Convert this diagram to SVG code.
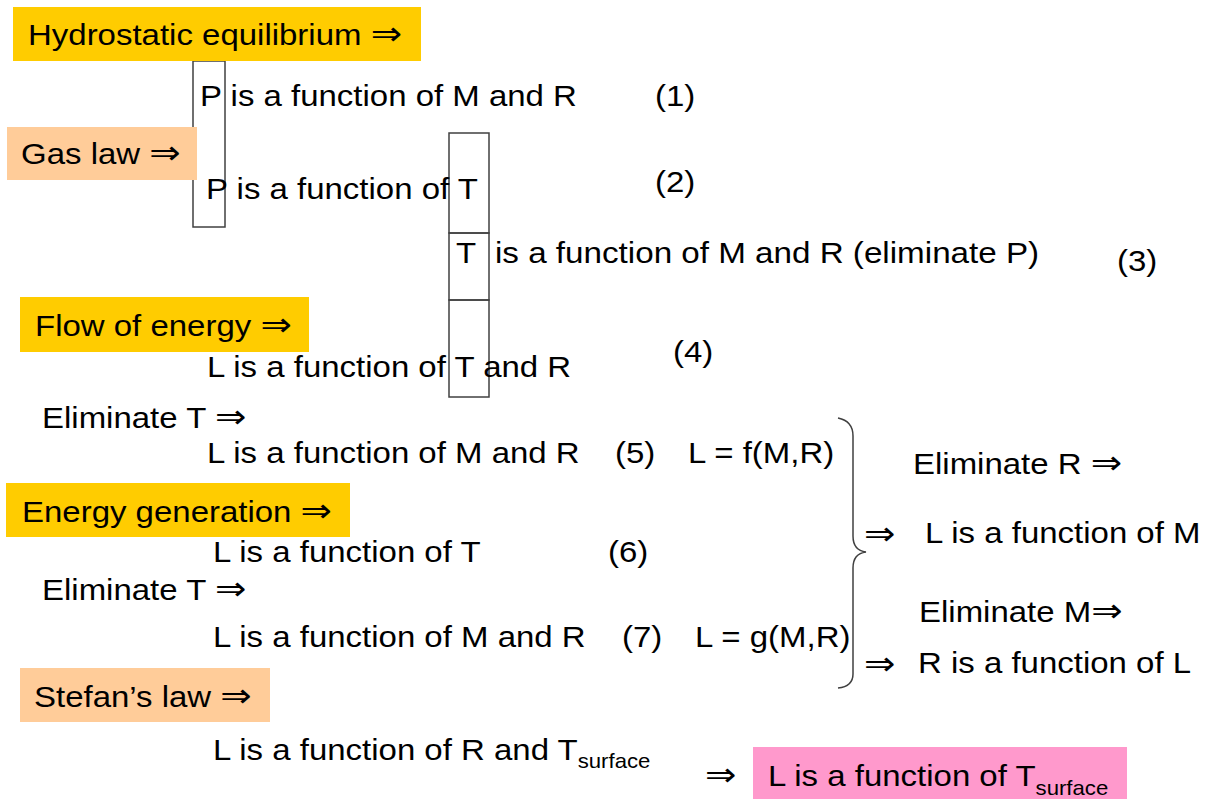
<svg xmlns="http://www.w3.org/2000/svg" width="1212" height="799" viewBox="0 0 1212 799">
<style>
  text { font-family: "Liberation Sans", Arial, "DejaVu Sans", sans-serif; font-size: 29px; fill: #000; }
  .sub { font-size: 19.5px; }
  .arr { font-family: "DejaVu Sans", sans-serif; font-size: 33px; }
  .gold { fill: #FFCC00; }
  .peach { fill: #FFCC99; }
  .pink { fill: #FF99CC; }
  .outline { fill: none; stroke: #404040; stroke-width: 1.5; }
</style>
<rect width="1212" height="799" fill="#fff"/>

<g id="outlines">
  <rect class="outline" x="193" y="61" width="32" height="166"/>
  <rect class="outline" x="449" y="133" width="40" height="100"/>
  <rect class="outline" x="449" y="233" width="40" height="67"/>
  <rect class="outline" x="449" y="300" width="40" height="97"/>
</g>

<g id="hydrostatic">
  <rect class="gold" x="13" y="7" width="408" height="54"/>
  <text transform="matrix(1.137 0 0 1 28 45)">Hydrostatic equilibrium <tspan class="arr">⇒</tspan></text>
</g>
<g id="eq1">
  <text transform="matrix(1.137 0 0 1 200 106)">P is a function of M and R</text>
  <text transform="matrix(1.137 0 0 1 655 106)">(1)</text>
</g>
<g id="gaslaw">
  <rect class="peach" x="7" y="127" width="190" height="53"/>
  <text transform="matrix(1.137 0 0 1 21 164)">Gas law <tspan class="arr">⇒</tspan></text>
</g>
<g id="eq2">
  <text transform="matrix(1.137 0 0 1 206 199)">P is a function of T</text>
  <text transform="matrix(1.137 0 0 1 655 192)">(2)</text>
</g>
<g id="eq3">
  <text transform="matrix(1.137 0 0 1 456 263)">T</text>
  <text transform="matrix(1.145 0 0 1 495 263)">is a function of M and R (eliminate P)</text>
  <text transform="matrix(1.137 0 0 1 1117 271)">(3)</text>
</g>
<g id="flow">
  <rect class="gold" x="20" y="297" width="289" height="55"/>
  <text transform="matrix(1.137 0 0 1 35 336)">Flow of energy <tspan class="arr">⇒</tspan></text>
</g>
<g id="eq4">
  <text transform="matrix(1.137 0 0 1 207 377)">L is a function of T and R</text>
  <text transform="matrix(1.137 0 0 1 673 362)">(4)</text>
</g>
<g id="elimT1">
  <text transform="matrix(1.137 0 0 1 42 428)">Eliminate T <tspan class="arr">⇒</tspan></text>
</g>
<g id="eq5">
  <text transform="matrix(1.137 0 0 1 207 463)">L is a function of M and R</text>
  <text transform="matrix(1.137 0 0 1 615 463)">(5)</text>
  <text transform="matrix(1.137 0 0 1 688 463)">L = f(M,R)</text>
</g>
<g id="energygen">
  <rect class="gold" x="6" y="483" width="344" height="54"/>
  <text transform="matrix(1.137 0 0 1 22 522)">Energy generation <tspan class="arr">⇒</tspan></text>
</g>
<g id="eq6">
  <text transform="matrix(1.137 0 0 1 213 562)">L is a function of T</text>
  <text transform="matrix(1.137 0 0 1 608 562)">(6)</text>
</g>
<g id="elimT2">
  <text transform="matrix(1.137 0 0 1 42 600)">Eliminate T <tspan class="arr">⇒</tspan></text>
</g>
<g id="eq7">
  <text transform="matrix(1.137 0 0 1 213 647)">L is a function of M and R</text>
  <text transform="matrix(1.137 0 0 1 622 647)">(7)</text>
  <text transform="matrix(1.137 0 0 1 695 647)">L = g(M,R)</text>
</g>
<g id="result-M">
  <text transform="matrix(1.137 0 0 1 913 474)">Eliminate R <tspan class="arr">⇒</tspan></text>
  <text class="arr" transform="matrix(1.137 0 0 1 864 545)">⇒</text>
  <text transform="matrix(1.137 0 0 1 925 543)">L is a function of M</text>
</g>
<g id="result-R">
  <text transform="matrix(1.137 0 0 1 919 622)">Eliminate M<tspan class="arr">⇒</tspan></text>
  <text class="arr" transform="matrix(1.137 0 0 1 864 675)">⇒</text>
  <text transform="matrix(1.137 0 0 1 918 673)">R is a function of L</text>
</g>
<g id="stefan">
  <rect class="peach" x="20" y="668" width="250" height="54"/>
  <text transform="matrix(1.137 0 0 1 34 707)">Stefan’s law <tspan class="arr">⇒</tspan></text>
</g>
<g id="eq8">
  <text transform="matrix(1.137 0 0 1 213 760)">L is a function of R and T<tspan class="sub" dy="8">surface</tspan></text>
</g>
<g id="final">
  <text class="arr" transform="matrix(1.137 0 0 1 705 786)">⇒</text>
  <rect class="pink" x="753" y="747" width="374" height="52"/>
  <text transform="matrix(1.137 0 0 1 768 786)">L is a function of T<tspan class="sub" dy="9">surface</tspan></text>
</g>

<g id="connectors">
  <path class="outline" d="M838,418 C848,420 853,426 853,436 L853,536 C853,546 858,551 866,552 C858,553 853,558 853,568 L853,674 C853,682 848,687 838,688"/>
</g>
</svg>
